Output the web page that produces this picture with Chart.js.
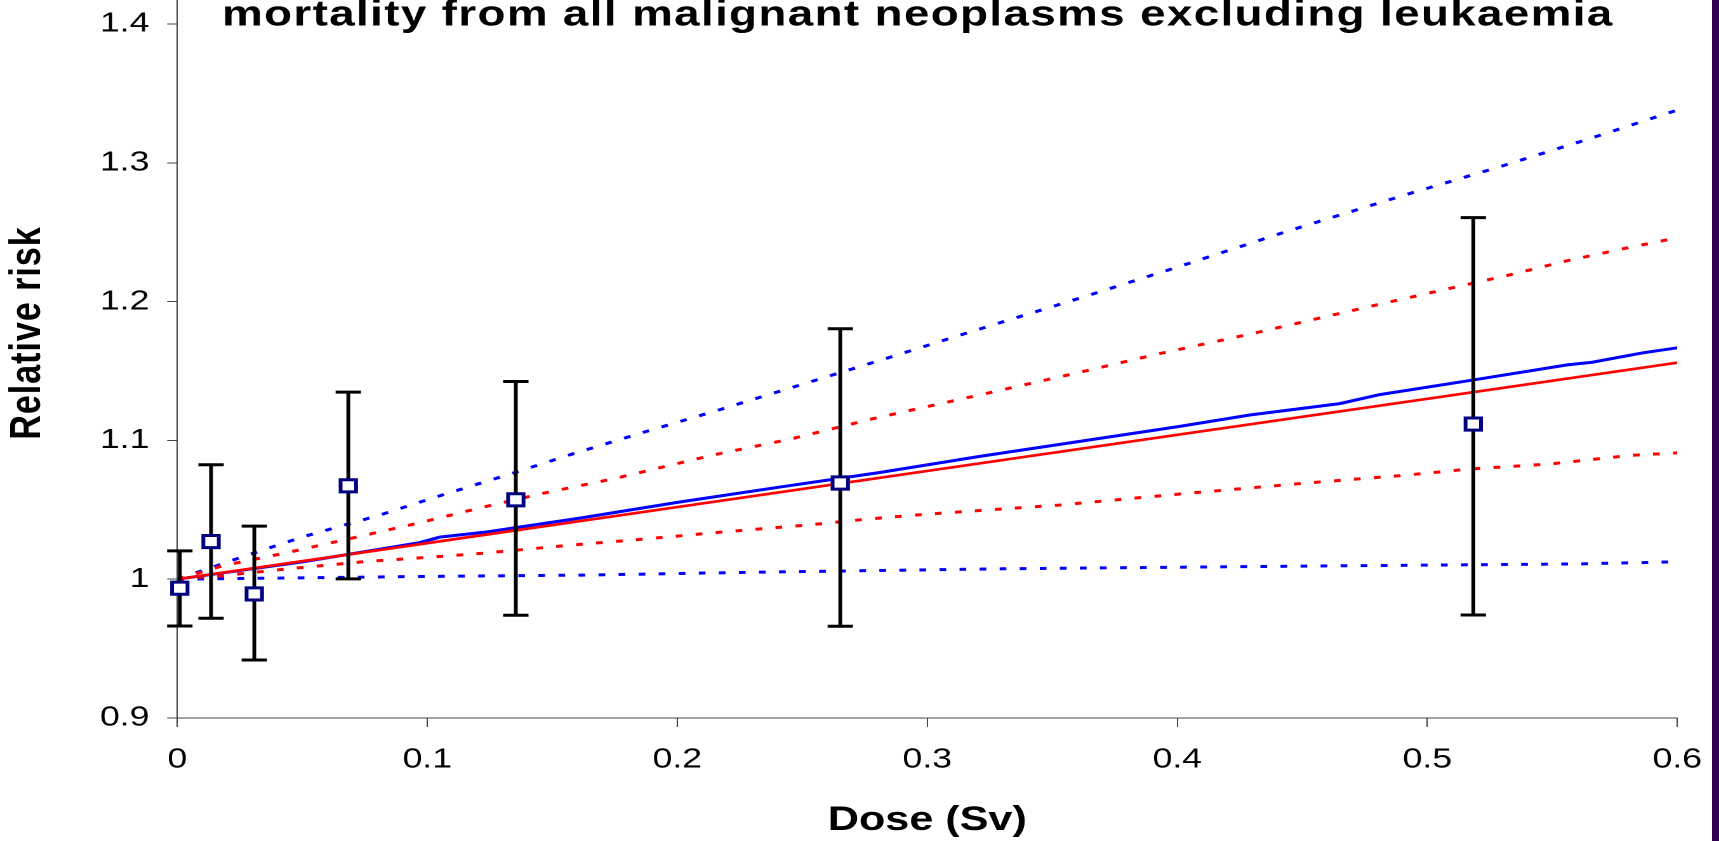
<!DOCTYPE html>
<html>
<head>
<meta charset="utf-8">
<script src="https://cdn.jsdelivr.net/npm/chart.js@4.4.1/dist/chart.umd.min.js"></script>
<style>
  html, body { margin: 0; padding: 0; background: #ffffff; overflow: hidden; }
  #wrap { position: absolute; left: 0; top: 0; width: 1354px; height: 841px;
          transform: scaleX(1.2696); transform-origin: 0 0; }
  #edge { position: absolute; left: 1712px; top: 0; width: 7px; height: 841px; background: #2e004f; }
</style>
</head>
<body>
<div id="wrap"><canvas id="c" width="1354" height="841"></canvas></div>
<div id="edge"></div>
<script>
// ---- data ----
const chartTitle = "mortality from all malignant neoplasms excluding leukaemia";
const xTitle = "Dose (Sv)";
const yTitle = "Relative risk";

const xTicks = [0, 0.1, 0.2, 0.3, 0.4, 0.5, 0.6];
const yTicks = [0.9, 1.0, 1.1, 1.2, 1.3, 1.4];

// observed points with confidence intervals
const pointDose  = [0.001, 0.0135, 0.0308, 0.0684, 0.1354, 0.2652, 0.5184];
const pointRR    = [0.9935, 1.0271, 0.9894, 1.0673, 1.0572, 1.0693, 1.1118];
const pointLower = [0.9663, 0.9719, 0.9418, 1.0002, 0.9740, 0.9661, 0.9742];
const pointUpper = [1.0204, 1.0825, 1.0382, 1.1348, 1.1424, 1.1804, 1.2605];

// red linear fit and its bounds
const redFitDose = [0, 0.1, 0.2, 0.3, 0.4, 0.5, 0.6];
const redFitRR   = [1.0, 1.026, 1.052, 1.078, 1.104, 1.130, 1.156];

const redUpperDose = [0, 0.0184, 0.0431, 0.0738, 0.098, 0.1207, 0.1448, 0.1758, 0.2144, 0.2454, 0.2784, 0.3228, 0.3618, 0.3924, 0.4314, 0.4782, 0.5011, 0.5331, 0.5558, 0.5784, 0.6];
const redUpperRR   = [1.0, 1.0098, 1.0188, 1.0312, 1.0411, 1.0512, 1.0613, 1.0729, 1.0895, 1.101, 1.1157, 1.1335, 1.1494, 1.1623, 1.1775, 1.197, 1.2063, 1.2193, 1.2294, 1.2381, 1.246];

const redLowerDose = [0, 0.0184, 0.0428, 0.0751, 0.0991, 0.1231, 0.1551, 0.1878, 0.2198, 0.252, 0.276, 0.3, 0.3527, 0.4005, 0.4518, 0.4918, 0.517, 0.549, 0.5811, 0.6];
const redLowerRR   = [1.0, 1.0026, 1.0072, 1.0127, 1.0156, 1.0188, 1.0242, 1.0291, 1.0343, 1.039, 1.0433, 1.0469, 1.0534, 1.0613, 1.0693, 1.075, 1.0794, 1.083, 1.0892, 1.091];

// blue fit and its bounds
const blueFitDose = [0, 0.05, 0.081, 0.097, 0.105, 0.124, 0.161, 0.201, 0.241, 0.281, 0.321, 0.361, 0.401, 0.429, 0.465, 0.481, 0.521, 0.556, 0.566, 0.586, 0.6];
const blueFitRR   = [1.0, 1.0125, 1.0216, 1.0264, 1.0303, 1.0341, 1.044, 1.0556, 1.0664, 1.0769, 1.0885, 1.0993, 1.1101, 1.1183, 1.1265, 1.133, 1.1443, 1.1544, 1.1563, 1.163, 1.1667];

const blueUpperDose = [0, 0.0264, 0.0498, 0.0804, 0.1034, 0.1344, 0.1568, 0.1864, 0.2171, 0.2478, 0.2844, 0.316, 0.3604, 0.3984, 0.4435, 0.4888, 0.5278, 0.5651, 0.6];
const blueUpperRR   = [1.0, 1.0163, 1.0303, 1.0459, 1.0592, 1.0765, 1.0895, 1.1058, 1.1222, 1.1392, 1.1595, 1.1775, 1.2022, 1.2239, 1.2504, 1.2756, 1.2965, 1.3175, 1.338];

const blueLowerDose = [0, 0.05, 0.1, 0.165, 0.23, 0.33, 0.455, 0.56, 0.6];
const blueLowerRR   = [1.0, 1.001, 1.002, 1.003, 1.005, 1.0075, 1.0095, 1.011, 1.0125];

// ---- helpers ----
const FONT = '"Liberation Sans", Arial, Helvetica, sans-serif';
const toXY = (xs, ys) => xs.map((x, i) => ({ x: x, y: ys[i] }));
const fmt = v => String(+Number(v).toFixed(2));

function lineSet(label, xs, ys, color, width, dash) {
  return {
    type: 'line', label: label, data: toXY(xs, ys),
    borderColor: color, backgroundColor: color, borderWidth: width,
    borderDash: dash || [], borderCapStyle: 'butt',
    pointRadius: 0, pointHoverRadius: 0, tension: 0, fill: false
  };
}

const errorBars = {
  id: 'errorBars',
  beforeDatasetDraw(chart, args) {
    if (args.index !== 0) return;
    const { ctx, scales: { x, y } } = chart;
    ctx.save();
    ctx.strokeStyle = '#000000';
    ctx.lineWidth = 3;
    ctx.lineCap = 'butt';
    const cap = 10;
    for (let i = 0; i < pointDose.length; i++) {
      const px = x.getPixelForValue(pointDose[i]);
      const pt = y.getPixelForValue(pointUpper[i]);
      const pb = y.getPixelForValue(pointLower[i]);
      ctx.beginPath();
      ctx.moveTo(px, pt); ctx.lineTo(px, pb);
      ctx.moveTo(px - cap, pt); ctx.lineTo(px + cap, pt);
      ctx.moveTo(px - cap, pb); ctx.lineTo(px + cap, pb);
      ctx.stroke();
    }
    ctx.restore();
  }
};

const texts = {
  id: 'texts',
  afterDraw(chart) {
    const ctx = chart.ctx;
    // chart title (top partially cut like the reference)
    ctx.save();
    ctx.fillStyle = '#000000';
    ctx.font = 'bold 36px ' + FONT;
    ctx.textBaseline = 'alphabetic';
    ctx.textAlign = 'left';
    const w0 = ctx.measureText(chartTitle).width;
    const target = 1094.8;
    const sp = (target - w0) / (chartTitle.length - 1);
    ctx.letterSpacing = sp.toFixed(2) + 'px';
    ctx.fillText(chartTitle, 174.9, 25.5);
    ctx.restore();
    // y axis title
    ctx.save();
    ctx.fillStyle = '#000000';
    ctx.font = 'bold 34px ' + FONT;
    ctx.letterSpacing = '1px';
    ctx.translate(22.3, 333);
    ctx.rotate(-Math.PI / 2);
    ctx.textAlign = 'center';
    ctx.textBaseline = 'middle';
    ctx.fillText(yTitle, 0, 0);
    ctx.restore();
  }
};

new Chart(document.getElementById('c'), {
  type: 'line',
  data: {
    datasets: [
      {
        type: 'scatter', label: 'Observed', data: toXY(pointDose, pointRR),
        pointStyle: 'rect', pointRadius: 8.6, pointHoverRadius: 8.6,
        pointBorderWidth: 3, borderWidth: 3, clip: false,
        borderColor: '#000080', backgroundColor: '#ffffff',
        pointBorderColor: '#000080', pointBackgroundColor: '#ffffff', showLine: false
      },
      lineSet('Red fit', redFitDose, redFitRR, '#ff0000', 2.7),
      lineSet('Blue fit', blueFitDose, blueFitRR, '#0000ff', 3),
      lineSet('Red upper', redUpperDose, redUpperRR, '#ff0000', 3, [5.3, 10.5]),
      lineSet('Red lower', redLowerDose, redLowerRR, '#ff0000', 3, [5.3, 10.5]),
      lineSet('Blue upper', blueUpperDose, blueUpperRR, '#0000ff', 3, [5.3, 10.5]),
      lineSet('Blue lower', blueLowerDose, blueLowerRR, '#0000ff', 3, [5.3, 10.5])
    ]
  },
  options: {
    responsive: false,
    animation: false,
    devicePixelRatio: 2,
    layout: { autoPadding: false, padding: { left: 0, right: 32.9, top: 0, bottom: 0 } },
    plugins: { legend: { display: false }, tooltip: { enabled: false }, title: { display: false } },
    scales: {
      x: {
        type: 'linear', min: 0, max: 0.6, bounds: 'data',
        afterBuildTicks: s => { s.ticks = xTicks.map(v => ({ value: v })); },
        afterFit: s => { s.height = 123; s.paddingLeft = 0; s.paddingRight = 0; },
        ticks: { callback: fmt, color: '#000000', font: { family: FONT, size: 28 }, padding: 16, maxRotation: 0, autoSkip: false },
        grid: { display: true, drawOnChartArea: false, drawTicks: true, tickLength: 9, tickColor: '#444444', lineWidth: 1 },
        border: { display: true, color: '#444444', width: 1 },
        title: { display: true, text: xTitle, color: '#000000', font: { family: FONT, size: 34, weight: 'bold' }, padding: { top: 0, bottom: 0 } }
      },
      y: {
        type: 'linear', min: 0.9, max: 1.4173, bounds: 'data',
        afterBuildTicks: s => { s.ticks = yTicks.map(v => ({ value: v })); },
        afterFit: s => { s.width = 139.65; s.paddingTop = 0; s.paddingBottom = 0; },
        ticks: { callback: fmt, color: '#000000', font: { family: FONT, size: 28 }, padding: 14, autoSkip: false },
        grid: { display: true, drawOnChartArea: false, drawTicks: true, tickLength: 8, tickColor: '#444444', lineWidth: 1 },
        border: { display: true, color: '#444444', width: 1 },
        title: { display: false }
      }
    }
  },
  plugins: [errorBars, texts]
});
</script>
</body>
</html>
